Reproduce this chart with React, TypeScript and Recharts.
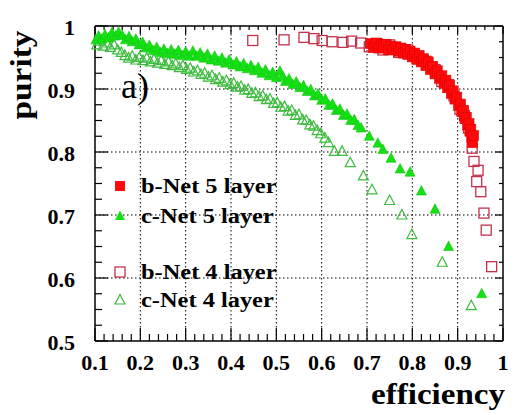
import React from 'react';
import { ScatterChart, Scatter, XAxis, YAxis } from 'recharts';

// ---------- data ----------
const xMinorTicks = [0.1, 0.12, 0.14, 0.16, 0.18, 0.2, 0.22, 0.24, 0.26, 0.28, 0.3, 0.32, 0.34, 0.36, 0.38, 0.4, 0.42, 0.44, 0.46, 0.48, 0.5, 0.52, 0.54, 0.56, 0.58, 0.6, 0.62, 0.64, 0.66, 0.68, 0.7, 0.72, 0.74, 0.76, 0.78, 0.8, 0.82, 0.84, 0.86, 0.88, 0.9, 0.92, 0.94, 0.96, 0.98, 1];
const yMinorTicks = [0.5, 0.525, 0.55, 0.575, 0.6, 0.625, 0.65, 0.675, 0.7, 0.725, 0.75, 0.775, 0.8, 0.825, 0.85, 0.875, 0.9, 0.925, 0.95, 0.975, 1];
const xDomain = [0.1, 1];
const yDomain = [0.5, 1];

const seriesNames = ['b-Net 5 layer', 'c-Net 5 layer', 'b-Net 4 layer', 'c-Net 4 layer'];
const xTitle = 'efficiency';
const yTitle = 'purity';
const panelTag = 'a)';

// b-Net 5 layer (filled red squares): [efficiency, purity]
const bNet5 = [
  [0.709, 0.972], [0.714, 0.966], [0.72, 0.973], [0.726, 0.965], [0.731, 0.970], [0.737, 0.966], [0.742, 0.971], [0.748, 0.962],
  [0.753, 0.968], [0.758, 0.963], [0.764, 0.967], [0.769, 0.960], [0.775, 0.965], [0.78, 0.957], [0.785, 0.963], [0.79, 0.955],
  [0.795, 0.960], [0.80, 0.951], [0.805, 0.957], [0.81, 0.947], [0.815, 0.953], [0.82, 0.943], [0.825, 0.948], [0.83, 0.937],
  [0.835, 0.943], [0.84, 0.931], [0.845, 0.936], [0.85, 0.924], [0.855, 0.929], [0.86, 0.917], [0.865, 0.921], [0.87, 0.909],
  [0.874, 0.914], [0.878, 0.902], [0.882, 0.906], [0.886, 0.893], [0.89, 0.897], [0.894, 0.884], [0.898, 0.887], [0.902, 0.874],
  [0.906, 0.876], [0.909, 0.864], [0.913, 0.866], [0.916, 0.853], [0.919, 0.855], [0.922, 0.843], [0.925, 0.845], [0.927, 0.833],
  [0.929, 0.836], [0.931, 0.823], [0.933, 0.815], [0.935, 0.826],
];

// c-Net 5 layer (filled green triangles)
const cNet5 = [
  [0.102, 0.978], [0.108, 0.984], [0.115, 0.979], [0.122, 0.986], [0.13, 0.981], [0.137, 0.989], [0.145, 0.984], [0.152, 0.990],
  [0.16, 0.985], [0.167, 0.978], [0.175, 0.983], [0.182, 0.975], [0.19, 0.979], [0.197, 0.970], [0.205, 0.974], [0.212, 0.965],
  [0.22, 0.969], [0.228, 0.961], [0.236, 0.966], [0.244, 0.958], [0.252, 0.963], [0.26, 0.956], [0.268, 0.962], [0.276, 0.955],
  [0.284, 0.961], [0.292, 0.953], [0.30, 0.959], [0.308, 0.952], [0.316, 0.960], [0.324, 0.952], [0.332, 0.957], [0.34, 0.949],
  [0.348, 0.955], [0.356, 0.946], [0.364, 0.952], [0.372, 0.944], [0.38, 0.949], [0.388, 0.941], [0.396, 0.946], [0.404, 0.938],
  [0.412, 0.943], [0.42, 0.935], [0.428, 0.940], [0.436, 0.932], [0.444, 0.937], [0.452, 0.929], [0.46, 0.934], [0.468, 0.925],
  [0.476, 0.930], [0.484, 0.921], [0.492, 0.926], [0.50, 0.918], [0.508, 0.928], [0.514, 0.920], [0.52, 0.912], [0.528, 0.916],
  [0.536, 0.907], [0.544, 0.911], [0.552, 0.902], [0.56, 0.905], [0.568, 0.896], [0.576, 0.899], [0.584, 0.889], [0.592, 0.892],
  [0.60, 0.882], [0.608, 0.884], [0.616, 0.874], [0.624, 0.876], [0.632, 0.866], [0.64, 0.868], [0.648, 0.858], [0.656, 0.860],
  [0.664, 0.850], [0.672, 0.851], [0.68, 0.842], [0.687, 0.838], [0.705, 0.825], [0.724, 0.814], [0.735, 0.804], [0.753, 0.790],
  [0.773, 0.773], [0.795, 0.768], [0.820, 0.738], [0.850, 0.709], [0.880, 0.650], [0.953, 0.575],
];

// b-Net 4 layer (open red squares)
const bNet4 = [
  [0.448, 0.977], [0.517, 0.978], [0.561, 0.982], [0.583, 0.980], [0.601, 0.977], [0.623, 0.975], [0.647, 0.974], [0.666, 0.976],
  [0.686, 0.973], [0.705, 0.967], [0.722, 0.972], [0.735, 0.962], [0.75, 0.970], [0.77, 0.958], [0.79, 0.962], [0.81, 0.952],
  [0.83, 0.944], [0.85, 0.931], [0.865, 0.912], [0.88, 0.907], [0.892, 0.889], [0.905, 0.868], [0.915, 0.858], [0.924, 0.838],
  [0.932, 0.806], [0.936, 0.785], [0.945, 0.771], [0.942, 0.753], [0.951, 0.737], [0.958, 0.703], [0.963, 0.676], [0.975, 0.618],
];

// c-Net 4 layer (open green triangles)
const cNet4 = [
  [0.104, 0.970], [0.11, 0.976], [0.118, 0.968], [0.126, 0.973], [0.134, 0.966], [0.142, 0.970], [0.15, 0.962], [0.158, 0.958],
  [0.166, 0.953], [0.174, 0.949], [0.182, 0.952], [0.19, 0.946], [0.198, 0.950], [0.206, 0.945], [0.214, 0.949], [0.222, 0.943],
  [0.23, 0.947], [0.238, 0.941], [0.246, 0.945], [0.254, 0.939], [0.262, 0.943], [0.27, 0.937], [0.278, 0.940], [0.286, 0.934],
  [0.294, 0.937], [0.302, 0.931], [0.31, 0.933], [0.318, 0.927], [0.326, 0.929], [0.334, 0.923], [0.342, 0.925], [0.35, 0.919],
  [0.358, 0.921], [0.366, 0.915], [0.374, 0.917], [0.382, 0.911], [0.39, 0.913], [0.398, 0.907], [0.406, 0.909], [0.414, 0.903],
  [0.422, 0.904], [0.43, 0.898], [0.438, 0.899], [0.446, 0.893], [0.454, 0.894], [0.462, 0.888], [0.47, 0.889], [0.478, 0.883],
  [0.486, 0.884], [0.494, 0.877], [0.502, 0.878], [0.51, 0.871], [0.518, 0.872], [0.526, 0.865], [0.534, 0.866], [0.542, 0.858],
  [0.55, 0.859], [0.558, 0.851], [0.566, 0.850], [0.574, 0.843], [0.582, 0.841], [0.59, 0.834], [0.598, 0.829], [0.607, 0.822],
  [0.615, 0.815], [0.628, 0.801], [0.645, 0.801], [0.663, 0.783], [0.692, 0.762], [0.711, 0.740], [0.750, 0.723], [0.777, 0.700],
  [0.799, 0.669], [0.866, 0.625], [0.930, 0.556],
];

// ---------- layout & styling ----------
const W = 520;
const H = 405;
const MARGIN = { top: 18, right: 25, bottom: 0, left: 0 };
const PLOT_TOP = MARGIN.top;
const PLOT_RIGHT = W - MARGIN.right;

const FONT = '"Liberation Serif", "Times New Roman", serif';
const RED = '#ff0a0a';
const RED_OPEN = '#c3324a';
const GREEN = '#14e014';
const GREEN_OPEN = '#3dbb3d';

const toPts = (arr: number[][]) => arr.map(([x, y]) => ({ x, y }));

// guide anchors placed through the chart's own scales (bottom edge for x ticks, left edge for y ticks)
const xGuideAnchors = xMinorTicks.map((v) => ({ x: v, y: yDomain[0] }));
const yGuideAnchors = yMinorTicks.map((v) => ({ x: xDomain[0], y: v }));

const isMajor = (v: number) => Math.abs(v * 10 - Math.round(v * 10)) < 1e-6;
const same = (a: number, b: number) => Math.abs(a - b) < 1e-9;
const valOf = (p: any, k: 'x' | 'y') => {
  const src = p.payload ?? p;
  return typeof src[k] === 'number' ? src[k] : p.node?.[k];
};

// vertical guide: frame side / dotted grid line / inward ticks at bottom and top
const XGuide = (p: any) => {
  const { cx, cy } = p;
  const v = valOf(p, 'x');
  const major = isMajor(v);
  const edge = same(v, xDomain[0]) || same(v, xDomain[1]);
  return (
    <g>
      {major && !edge && (
        <path d={`M${cx},${PLOT_TOP}V${cy}`} fill="none" stroke="#000" strokeWidth={1} strokeDasharray="1.5 2.5" />
      )}
      {edge && <path d={`M${cx},${PLOT_TOP}V${cy}`} fill="none" stroke="#000" strokeWidth={1.5} />}
      <path d={`M${cx},${cy}V${cy - (major ? 13 : 7)}`} fill="none" stroke="#000" strokeWidth={1.2} />
      <path d={`M${cx},${PLOT_TOP}V${PLOT_TOP + (major ? 8 : 4)}`} fill="none" stroke="#000" strokeWidth={1.2} />
    </g>
  );
};

// horizontal guide: frame side / dotted grid line / inward ticks at left and right
const YGuide = (p: any) => {
  const { cx, cy } = p;
  const v = valOf(p, 'y');
  const major = isMajor(v);
  const edge = same(v, yDomain[0]) || same(v, yDomain[1]);
  return (
    <g>
      {major && !edge && (
        <path d={`M${cx},${cy}H${PLOT_RIGHT}`} fill="none" stroke="#000" strokeWidth={1} strokeDasharray="1.5 2.5" />
      )}
      {edge && <path d={`M${cx},${cy}H${PLOT_RIGHT}`} fill="none" stroke="#000" strokeWidth={1.5} />}
      <path d={`M${cx},${cy}H${cx + (major ? 13 : 7)}`} fill="none" stroke="#000" strokeWidth={1.2} />
      <path d={`M${PLOT_RIGHT},${cy}H${PLOT_RIGHT - (major ? 8 : 4)}`} fill="none" stroke="#000" strokeWidth={1.2} />
    </g>
  );
};

const FilledSquare = (p: any) => (
  <rect x={p.cx - 5} y={p.cy - 5} width={10} height={10} fill={RED} stroke="#e00000" strokeWidth={0.6} />
);
const OpenSquare = (p: any) => (
  <rect x={p.cx - 5} y={p.cy - 5} width={10} height={10} fill="none" stroke={RED_OPEN} strokeWidth={1.3} />
);
const FilledTri = (p: any) => (
  <polygon points={`${p.cx},${p.cy - 5.5} ${p.cx - 5},${p.cy + 4} ${p.cx + 5},${p.cy + 4}`} fill={GREEN} stroke="#10c810" strokeWidth={0.6} />
);
const OpenTri = (p: any) => (
  <polygon points={`${p.cx},${p.cy - 5.5} ${p.cx - 5},${p.cy + 4} ${p.cx + 5},${p.cy + 4}`} fill="none" stroke={GREEN_OPEN} strokeWidth={1.2} />
);

const XTick = (props: any) => {
  const { x, y, payload } = props;
  if (!isMajor(payload.value)) return <g />;
  return (
    <text x={x} y={y + 29} textAnchor="middle" fontFamily={FONT} fontWeight="bold" fontSize={22} fill="#000">
      {String(payload.value)}
    </text>
  );
};
const YTick = (props: any) => {
  const { x, y, payload } = props;
  if (!isMajor(payload.value)) return <g />;
  return (
    <text x={x - 20} y={y + 9} textAnchor="end" fontFamily={FONT} fontWeight="bold" fontSize={22} fill="#000">
      {String(payload.value)}
    </text>
  );
};

const legendMarkers = [
  <rect x={3} y={3} width={10} height={10} fill={RED} />,
  <polygon points="8,2.5 3,12 13,12" fill={GREEN} />,
  <rect x={3} y={3} width={10} height={10} fill="none" stroke={RED_OPEN} strokeWidth={1.3} />,
  <polygon points="8,2.5 3,12 13,12" fill="none" stroke={GREEN_OPEN} strokeWidth={1.2} />,
];
const legendRowTops = [0, 30, 86, 114];

export default function App() {
  return (
    <div style={{ position: 'relative', width: W, height: H }}>
      <ScatterChart width={W} height={H} margin={MARGIN}>
        <XAxis
          dataKey="x" type="number" domain={xDomain} ticks={xMinorTicks} interval={0}
          height={72} tickLine={false} axisLine={false} tickSize={0} tickMargin={0} tick={<XTick />}
        />
        <YAxis
          dataKey="y" type="number" domain={yDomain} ticks={yMinorTicks} interval={0}
          width={87} tickLine={false} axisLine={false} tickSize={0} tickMargin={0} tick={<YTick />}
        />
        <Scatter data={xGuideAnchors} shape={XGuide} legendType="none" isAnimationActive={false} />
        <Scatter data={yGuideAnchors} shape={YGuide} legendType="none" isAnimationActive={false} />
        <Scatter name={seriesNames[3]} data={toPts(cNet4)} shape={OpenTri} isAnimationActive={false} />
        <Scatter name={seriesNames[2]} data={toPts(bNet4)} shape={OpenSquare} isAnimationActive={false} />
        <Scatter name={seriesNames[1]} data={toPts(cNet5)} shape={FilledTri} isAnimationActive={false} />
        <Scatter name={seriesNames[0]} data={toPts(bNet5)} shape={FilledSquare} isAnimationActive={false} />
      </ScatterChart>

      <svg width={W} height={H} style={{ position: 'absolute', left: 0, top: 0, pointerEvents: 'none' }}>
        <text transform="translate(23,67) rotate(-90) scale(1.15,1)" textAnchor="middle" fontFamily={FONT} fontWeight="bold" fontSize={29} fill="#000">
          {yTitle}
        </text>
        <text transform="translate(497,396) scale(1.14,1)" textAnchor="end" fontFamily={FONT} fontWeight="bold" fontSize={29} fill="#000">
          {xTitle}
        </text>
        <text x={113} y={90} fontFamily={FONT} fontSize={36} fill="#000">
          {panelTag}
        </text>
      </svg>

      <div style={{ position: 'absolute', left: 104, top: 163, width: 220, height: 150 }}>
        {seriesNames.map((name, i) => (
          <div key={name} style={{ position: 'absolute', left: 0, top: legendRowTops[i], height: 30, display: 'flex', alignItems: 'center' }}>
            <svg width={16} height={16} style={{ display: 'block' }}>{legendMarkers[i]}</svg>
            <span
              style={{
                marginLeft: 13, fontFamily: FONT, fontWeight: 'bold', fontSize: 20, lineHeight: 1, whiteSpace: 'nowrap',
                display: 'inline-block', transform: 'scaleX(1.22)', transformOrigin: 'left center', color: '#000',
              }}
            >
              {name}
            </span>
          </div>
        ))}
      </div>
    </div>
  );
}
